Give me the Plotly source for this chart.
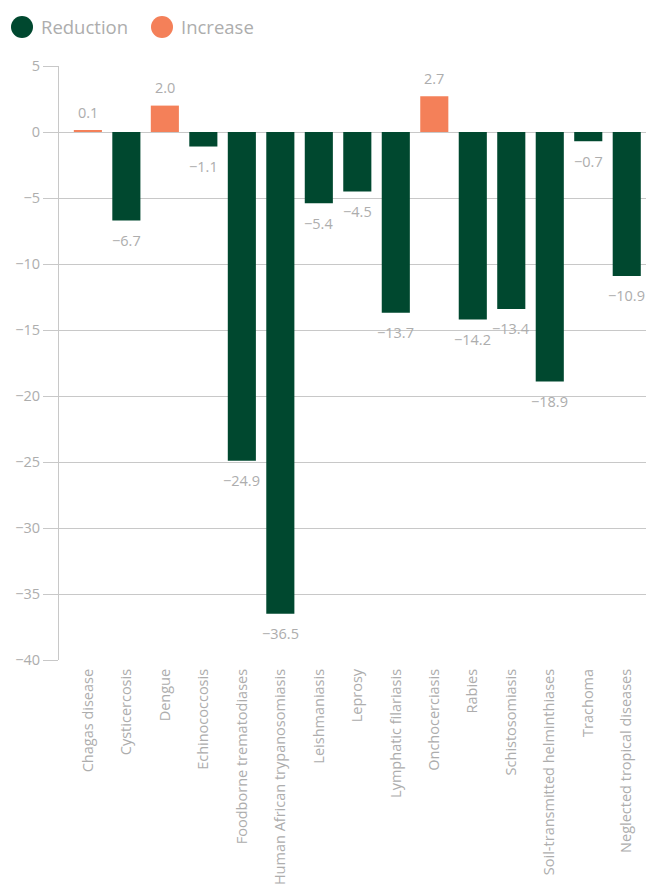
import plotly.graph_objects as go

# Percentage change by disease
categories = [
    "Chagas disease", "Cysticercosis", "Dengue", "Echinococcosis",
    "Foodborne trematodiases", "Human African trypanosomiasis",
    "Leishmaniasis", "Leprosy", "Lymphatic filariasis", "Onchocerciasis",
    "Rabies", "Schistosomiasis", "Soil-transmitted helminthiases",
    "Trachoma", "Neglected tropical diseases",
]
values = [0.1, -6.7, 2.0, -1.1, -24.9, -36.5, -5.4, -4.5, -13.7, 2.7,
          -14.2, -13.4, -18.9, -0.7, -10.9]

series_names = ["Reduction", "Increase"]
series_colors = ["#00482F", "#F48059"]

y_ticks = [5, 0, -5, -10, -15, -20, -25, -30, -35, -40]

GREY_TEXT = "#ADADAD"
GRID = "#C8C8C8"
FONT = "Open Sans"


def fmt(v):
    s = f"{abs(v):.1f}"
    return ("\u2212" + s) if v < 0 else s


fig = go.Figure()

red_x = [c for c, v in zip(categories, values) if v < 0]
red_y = [v for v in values if v < 0]
inc_x = [c for c, v in zip(categories, values) if v >= 0]
inc_y = [v for v in values if v >= 0]

fig.add_trace(go.Bar(x=red_x, y=red_y, name=series_names[0],
                     marker=dict(color=series_colors[0], line_width=0),
                     showlegend=False, hoverinfo="x+y"))
fig.add_trace(go.Bar(x=inc_x, y=inc_y, name=series_names[1],
                     marker=dict(color=series_colors[1], line_width=0),
                     showlegend=False, hoverinfo="x+y"))

# value labels above / below each bar
for c, v in zip(categories, values):
    fig.add_annotation(x=c, y=v, text=fmt(v), showarrow=False,
                       yshift=(18 if v >= 0 else -20),
                       font=dict(family=FONT, size=14.5, color=GREY_TEXT))

# legend drawn as circles with labels
legend_x = [22, 162]
for name, col, lx in zip(series_names, series_colors, legend_x):
    fig.add_shape(type="circle", xref="paper", yref="paper",
                  xsizemode="pixel", ysizemode="pixel",
                  xanchor=(lx - 59) / 587, yanchor=1 + (66 - 27) / 594,
                  x0=-11, x1=11, y0=-11, y1=11,
                  fillcolor=col, line_width=0)
    fig.add_annotation(xref="paper", yref="paper",
                       x=(lx + 17 - 59) / 587, y=1 + (66 - 27) / 594,
                       xanchor="left", yanchor="middle", showarrow=False,
                       text=name,
                       font=dict(family=FONT, size=18.5, color=GREY_TEXT))

fig.update_layout(
    width=646, height=886,
    margin=dict(l=59, r=0, t=66, b=226),
    paper_bgcolor="white", plot_bgcolor="white",
    barmode="relative", bargap=0.27,
    showlegend=False,
    font=dict(family=FONT, color=GREY_TEXT),
    xaxis=dict(
        type="category", categoryorder="array", categoryarray=categories,
        range=[-0.75, 14.5], tickangle=-90,
        tickfont=dict(family=FONT, size=14.5, color=GREY_TEXT),
        showgrid=False, showline=False, zeroline=False,
        ticks="", ticklabelstandoff=5,
    ),
    yaxis=dict(
        range=[-40, 5], tickvals=y_ticks,
        tickfont=dict(family=FONT, size=14.5, color=GREY_TEXT),
        showgrid=True, gridcolor=GRID, gridwidth=1,
        zeroline=True, zerolinecolor=GRID, zerolinewidth=1,
        showline=True, linecolor=GRID, linewidth=1,
        ticks="outside", ticklen=15, tickcolor=GRID, tickwidth=1,
    ),
)

fig.write_html("out.html")
